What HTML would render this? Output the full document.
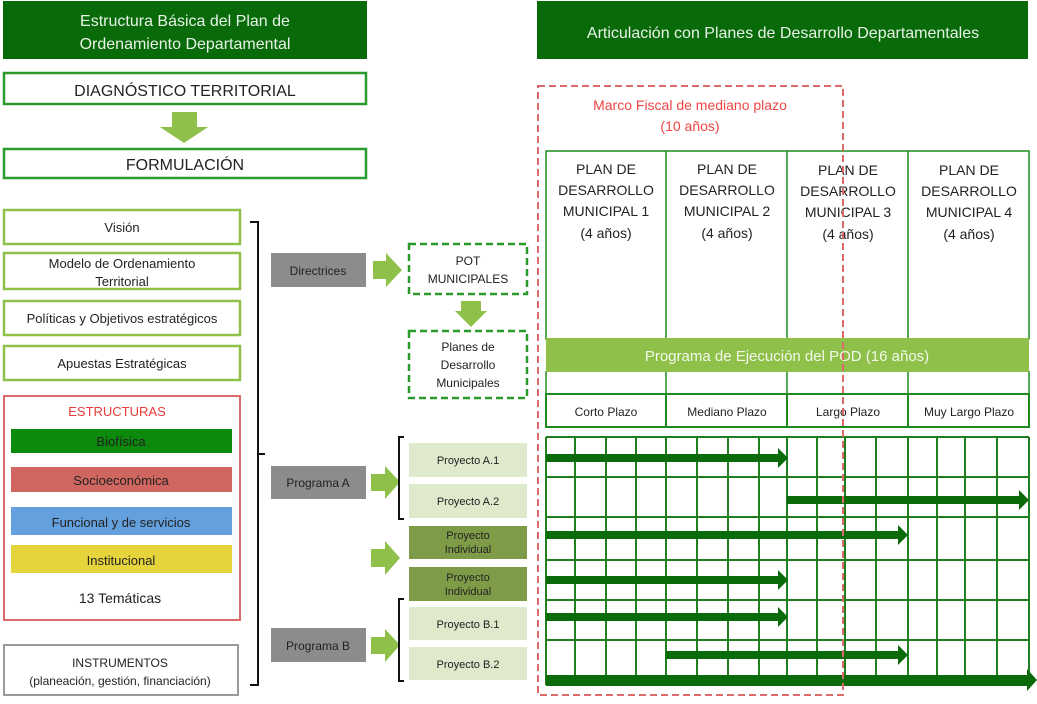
<!DOCTYPE html>
<html><head><meta charset="utf-8"><style>
body{margin:0;background:#fff;}
svg text{font-family:"Liberation Sans",sans-serif;}
</style></head><body>
<svg width="1037" height="699" viewBox="0 0 1037 699" xmlns="http://www.w3.org/2000/svg">
<defs>
<marker id="ah" markerWidth="4" markerHeight="4" refX="2" refY="2" orient="auto" markerUnits="strokeWidth"><path d="M0,0 L2,2 L0,4 z" fill="#0b6b0b"/></marker>
</defs>
<!-- headers -->
<rect x="3" y="1" width="364" height="58" fill="#086a08"/>
<text x="185" y="26" font-size="16" fill="#e8f3e8" text-anchor="middle">Estructura Básica del Plan de</text>
<text x="185" y="49" font-size="16" fill="#e8f3e8" text-anchor="middle">Ordenamiento Departamental</text>
<rect x="537" y="1" width="491" height="58" fill="#086a08"/>
<text x="783" y="38" font-size="16" fill="#e8f3e8" text-anchor="middle">Articulación con Planes de Desarrollo Departamentales</text>

<rect x="4" y="73" width="362" height="31" fill="#fff" stroke="#2a9a2a" stroke-width="2.5"/>
<text x="185" y="96" font-size="16" fill="#222" text-anchor="middle">DIAGNÓSTICO TERRITORIAL</text>
<path d="M172,112 H197 V127 H208 L184,143 L160,127 H172 Z" fill="#8fc04a"/>
<rect x="4" y="149" width="362" height="29" fill="#fff" stroke="#2a9a2a" stroke-width="2.5"/>
<text x="185" y="170" font-size="16" fill="#222" text-anchor="middle">FORMULACIÓN</text>

<!-- left list -->
<g stroke="#8fc04a" stroke-width="2.5" fill="#fff">
<rect x="4" y="210" width="236" height="34"/>
<rect x="4" y="253" width="236" height="36"/>
<rect x="4" y="301" width="236" height="34"/>
<rect x="4" y="346" width="236" height="34"/>
</g>
<g font-size="13" fill="#222" text-anchor="middle">
<text x="122" y="232">Visión</text>
<text x="122" y="268">Modelo de Ordenamiento</text>
<text x="122" y="286">Territorial</text>
<text x="122" y="323">Políticas y Objetivos estratégicos</text>
<text x="122" y="368">Apuestas Estratégicas</text>
</g>
<rect x="4" y="396" width="236" height="224" fill="#fff" stroke="#dc6a6a" stroke-width="2"/>
<text x="117" y="416" font-size="13" fill="#e83a3a" text-anchor="middle">ESTRUCTURAS</text>
<rect x="11" y="429" width="221" height="24" fill="#0b8a0b"/>
<rect x="11" y="467" width="221" height="25" fill="#cf665f"/>
<rect x="11" y="507" width="221" height="28" fill="#64a0dd"/>
<rect x="11" y="545" width="221" height="28" fill="#e6d43c"/>
<g font-size="13" fill="#222" text-anchor="middle">
<text x="121" y="446">Biofísica</text>
<text x="121" y="485">Socioeconómica</text>
<text x="121" y="527">Funcional y de servicios</text>
<text x="121" y="565">Institucional</text>
<text x="120" y="603" font-size="14">13 Temáticas</text>
</g>
<rect x="4" y="645" width="234" height="50" fill="#fff" stroke="#9a9a9a" stroke-width="2"/>
<text x="120" y="667" font-size="12" fill="#222" text-anchor="middle">INSTRUMENTOS</text>
<text x="120" y="685" font-size="12" fill="#222" text-anchor="middle">(planeación, gestión, financiación)</text>

<!-- big bracket -->
<path d="M250,222 H258 V685 H250 M258,454 H265" fill="none" stroke="#111" stroke-width="2"/>

<!-- gray boxes -->
<g fill="#8c8c8c">
<rect x="271" y="253" width="95" height="34"/>
<rect x="271" y="466" width="95" height="33"/>
<rect x="271" y="628" width="95" height="34"/>
</g>
<g font-size="12" fill="#222" text-anchor="middle">
<text x="318" y="275">Directrices</text>
<text x="318" y="487">Programa A</text>
<text x="318" y="650">Programa B</text>
</g>
<!-- green arrows -->
<g fill="#8fc04a">
<path d="M373,261 H386 V253 L402,270 L386,287 V279 H373 Z"/>
<path d="M371,474 H385 V466 L400,482 L385,499 V491 H371 Z"/>
<path d="M371,549 H385 V541 L400,558 L385,575 V567 H371 Z"/>
<path d="M371,637 H385 V629 L400,645 L385,662 V654 H371 Z"/>
<path d="M461,301 H481 V311 H487 L471,327 L455,311 H461 Z"/>
</g>
<!-- dashed boxes -->
<g fill="#fff" stroke="#2a9a2a" stroke-width="2.5" stroke-dasharray="7,4">
<rect x="409" y="244" width="118" height="50"/>
<rect x="409" y="331" width="118" height="67"/>
</g>
<g font-size="12" fill="#222" text-anchor="middle">
<text x="468" y="265">POT</text>
<text x="468" y="283">MUNICIPALES</text>
<text x="468" y="351">Planes de</text>
<text x="468" y="369">Desarrollo</text>
<text x="468" y="387">Municipales</text>
</g>
<!-- small brackets -->
<path d="M404,437 H399 V519 H404 M404,599 H399 V681 H404" fill="none" stroke="#111" stroke-width="2"/>
<!-- projects -->
<g fill="#dfe9cc">
<rect x="409" y="443" width="118" height="34"/>
<rect x="409" y="484" width="118" height="34"/>
<rect x="409" y="607" width="118" height="33"/>
<rect x="409" y="647" width="118" height="33"/>
</g>
<g fill="#7e9c48">
<rect x="409" y="526" width="118" height="33"/>
<rect x="409" y="567" width="118" height="34"/>
</g>
<g font-size="11" fill="#222" text-anchor="middle">
<text x="468" y="464">Proyecto A.1</text>
<text x="468" y="505">Proyecto A.2</text>
<text x="468" y="539">Proyecto</text>
<text x="468" y="553">Individual</text>
<text x="468" y="581">Proyecto</text>
<text x="468" y="595">Individual</text>
<text x="468" y="628">Proyecto B.1</text>
<text x="468" y="668">Proyecto B.2</text>
</g>

<!-- right: plan columns -->
<g fill="none" stroke="#1f8a1f" stroke-width="1.5">
<rect x="546" y="151" width="483" height="188"/>
<line x1="666" y1="151" x2="666" y2="339"/>
<line x1="787" y1="151" x2="787" y2="339"/>
<line x1="908" y1="151" x2="908" y2="339"/>
<line x1="546" y1="371" x2="546" y2="394"/>
<line x1="666" y1="371" x2="666" y2="394"/>
<line x1="787" y1="371" x2="787" y2="394"/>
<line x1="908" y1="371" x2="908" y2="394"/>
<line x1="1029" y1="371" x2="1029" y2="394"/>
</g>
<g font-size="14" fill="#222" text-anchor="middle">
<text x="606" y="174">PLAN DE</text><text x="606" y="195">DESARROLLO</text><text x="606" y="216">MUNICIPAL 1</text><text x="606" y="238">(4 años)</text>
<text x="727" y="174">PLAN DE</text><text x="727" y="195">DESARROLLO</text><text x="727" y="216">MUNICIPAL 2</text><text x="727" y="238">(4 años)</text>
<text x="848" y="175">PLAN DE</text><text x="848" y="196">DESARROLLO</text><text x="848" y="217">MUNICIPAL 3</text><text x="848" y="239">(4 años)</text>
<text x="969" y="175">PLAN DE</text><text x="969" y="196">DESARROLLO</text><text x="969" y="217">MUNICIPAL 4</text><text x="969" y="239">(4 años)</text>
</g>
<rect x="546" y="338" width="483" height="34" fill="#8fc04a"/>
<text x="787" y="361" font-size="15" fill="#f3f8ea" text-anchor="middle">Programa de Ejecución del POD (16 años)</text>

<!-- plazo header -->
<g fill="#fff" stroke="#1f8a1f" stroke-width="2">
<rect x="546" y="394" width="120" height="33"/>
<rect x="666" y="394" width="121" height="33"/>
<rect x="787" y="394" width="121" height="33"/>
<rect x="908" y="394" width="121" height="33"/>
</g>
<g font-size="12" fill="#222" text-anchor="middle">
<text x="606" y="416">Corto Plazo</text>
<text x="727" y="416">Mediano Plazo</text>
<text x="848" y="416">Largo Plazo</text>
<text x="969" y="416">Muy Largo Plazo</text>
</g>

<!-- grid -->
<g stroke="#1f7f1f" stroke-width="2" fill="none">
<line x1="546" y1="437" x2="1029" y2="437"/>
<line x1="546" y1="477" x2="1029" y2="477"/>
<line x1="546" y1="517" x2="1029" y2="517"/>
<line x1="546" y1="560" x2="1029" y2="560"/>
<line x1="546" y1="600" x2="1029" y2="600"/>
<line x1="546" y1="640" x2="1029" y2="640"/>
<line x1="546" y1="437" x2="546" y2="685"/>
<line x1="575" y1="437" x2="575" y2="676"/>
<line x1="606" y1="437" x2="606" y2="676"/>
<line x1="636" y1="437" x2="636" y2="676"/>
<line x1="666" y1="437" x2="666" y2="676"/>
<line x1="697" y1="437" x2="697" y2="676"/>
<line x1="728" y1="437" x2="728" y2="676"/>
<line x1="759" y1="437" x2="759" y2="676"/>
<line x1="787" y1="437" x2="787" y2="676"/>
<line x1="817" y1="437" x2="817" y2="676"/>
<line x1="845" y1="437" x2="845" y2="676"/>
<line x1="876" y1="437" x2="876" y2="676"/>
<line x1="908" y1="437" x2="908" y2="676"/>
<line x1="937" y1="437" x2="937" y2="676"/>
<line x1="965" y1="437" x2="965" y2="676"/>
<line x1="997" y1="437" x2="997" y2="676"/>
<line x1="1029" y1="437" x2="1029" y2="676"/>
</g>
<!-- arrows -->
<g fill="#0b6b0b">
<path d="M546,454 H778 V448 L788,458 L778,468 V462 H546 Z"/>
<path d="M787,496 H1019 V490 L1029,500 L1019,510 V504 H787 Z"/>
<path d="M546,531 H898 V525 L908,535 L898,545 V539 H546 Z"/>
<path d="M546,576 H778 V570 L788,580 L778,590 V584 H546 Z"/>
<path d="M546,613 H778 V607 L788,617 L778,627 V621 H546 Z"/>
<path d="M666,651 H898 V645 L908,655 L898,665 V659 H666 Z"/>
<path d="M546,675 H1027 V669 L1037,680 L1027,691 V686 H546 Z"/>
</g>

<!-- red dashed frame -->
<rect x="538" y="86" width="305" height="609" fill="none" stroke="#dc6a6a" stroke-width="2" stroke-dasharray="7,4"/>
<text x="690" y="110" font-size="14" fill="#ee4444" text-anchor="middle">Marco Fiscal de mediano plazo</text>
<text x="690" y="131" font-size="14" fill="#ee4444" text-anchor="middle">(10 años)</text>
</svg>
</body></html>
